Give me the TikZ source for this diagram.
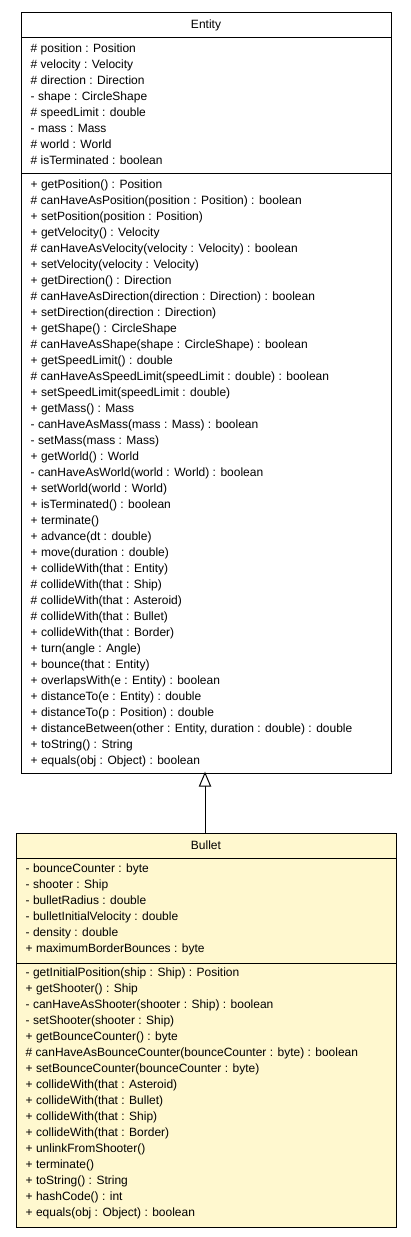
\documentclass[tikz,border=0pt]{standalone}
\usepackage{fontspec}
\setmainfont{Liberation Sans}
\begin{document}
\begin{tikzpicture}[x=1pt,y=-1pt,
  txt/.style={anchor=base west,inner sep=0pt,font=\fontsize{12}{14}\selectfont},
  ttl/.style={anchor=base,inner sep=0pt,font=\fontsize{12}{14}\selectfont},
  boxline/.style={draw=black,line width=1pt},
  inherit/.style={draw=black,line width=1pt}]
\useasboundingbox (0,0) rectangle (411,1237);
% Entity
\node[boxline,fill=white,minimum width=370pt,minimum height=761pt,inner sep=0pt,anchor=north west] (entity) at (21,12) {};
\draw[boxline] (21,37) -- (391,37);
\draw[boxline] (21,173) -- (391,173);
\node[ttl] (etitle) at (206,28) {Entity};
\foreach \t [count=\i from 0] in {%
 {\# position : Position},{\# velocity : Velocity},{\# direction : Direction},{- shape : CircleShape},{\# speedLimit : double},{- mass : Mass},{\# world : World},{\# isTerminated : boolean}}
 \node[txt] (ea\i) at (30.5,52+16*\i) {\t};
\foreach \t [count=\i from 0] in {%
 {+ getPosition() : Position},
 {\# canHaveAsPosition(position : Position) : boolean},
 {+ setPosition(position : Position)},
 {+ getVelocity() : Velocity},
 {\# canHaveAsVelocity(velocity : Velocity) : boolean},
 {+ setVelocity(velocity : Velocity)},
 {+ getDirection() : Direction},
 {\# canHaveAsDirection(direction : Direction) : boolean},
 {+ setDirection(direction : Direction)},
 {+ getShape() : CircleShape},
 {\# canHaveAsShape(shape : CircleShape) : boolean},
 {+ getSpeedLimit() : double},
 {\# canHaveAsSpeedLimit(speedLimit : double) : boolean},
 {+ setSpeedLimit(speedLimit : double)},
 {+ getMass() : Mass},
 {- canHaveAsMass(mass : Mass) : boolean},
 {- setMass(mass : Mass)},
 {+ getWorld() : World},
 {- canHaveAsWorld(world : World) : boolean},
 {+ setWorld(world : World)},
 {+ isTerminated() : boolean},
 {+ terminate()},
 {+ advance(dt : double)},
 {+ move(duration : double)},
 {+ collideWith(that : Entity)},
 {\# collideWith(that : Ship)},
 {\# collideWith(that : Asteroid)},
 {\# collideWith(that : Bullet)},
 {+ collideWith(that : Border)},
 {+ turn(angle : Angle)},
 {+ bounce(that : Entity)},
 {+ overlapsWith(e : Entity) : boolean},
 {+ distanceTo(e : Entity) : double},
 {+ distanceTo(p : Position) : double},
 {+ distanceBetween(other : Entity, duration : double) : double},
 {+ toString() : String},
 {+ equals(obj : Object) : boolean}}
 \node[txt] (em\i) at (30.5,188+16*\i) {\t};
% Bullet
\definecolor{bulletfill}{HTML}{FFF8CF}
\node[boxline,fill=bulletfill,minimum width=380pt,minimum height=394pt,inner sep=0pt,anchor=north west] (bullet) at (16,833) {};
\draw[boxline] (16,858) -- (396,858);
\draw[boxline] (16,963) -- (396,963);
\node[ttl] (btitle) at (206,849) {Bullet};
\foreach \t [count=\i from 0] in {%
 {- bounceCounter : byte},{- shooter : Ship},{- bulletRadius : double},{- bulletInitialVelocity : double},{- density : double},{+ maximumBorderBounces : byte}}
 \node[txt] (ba\i) at (25.5,872+16*\i) {\t};
\foreach \t [count=\i from 0] in {%
 {- getInitialPosition(ship : Ship) : Position},
 {+ getShooter() : Ship},
 {- canHaveAsShooter(shooter : Ship) : boolean},
 {- setShooter(shooter : Ship)},
 {+ getBounceCounter() : byte},
 {\# canHaveAsBounceCounter(bounceCounter : byte) : boolean},
 {+ setBounceCounter(bounceCounter : byte)},
 {+ collideWith(that : Asteroid)},
 {+ collideWith(that : Bullet)},
 {+ collideWith(that : Ship)},
 {+ collideWith(that : Border)},
 {+ unlinkFromShooter()},
 {+ terminate()},
 {+ toString() : String},
 {+ hashCode() : int},
 {+ equals(obj : Object) : boolean}}
 \node[txt] (bm\i) at (25.5,976+16*\i) {\t};
% inheritance
\coordinate (tip) at (205,773);
\coordinate (base) at (205,786);
\draw[inherit] (bullet.north -| tip) -- (base);
\draw[inherit,fill=white,line join=miter] (tip) -- (199.5,786) -- (210.5,786) -- cycle;
\end{tikzpicture}
\end{document}
